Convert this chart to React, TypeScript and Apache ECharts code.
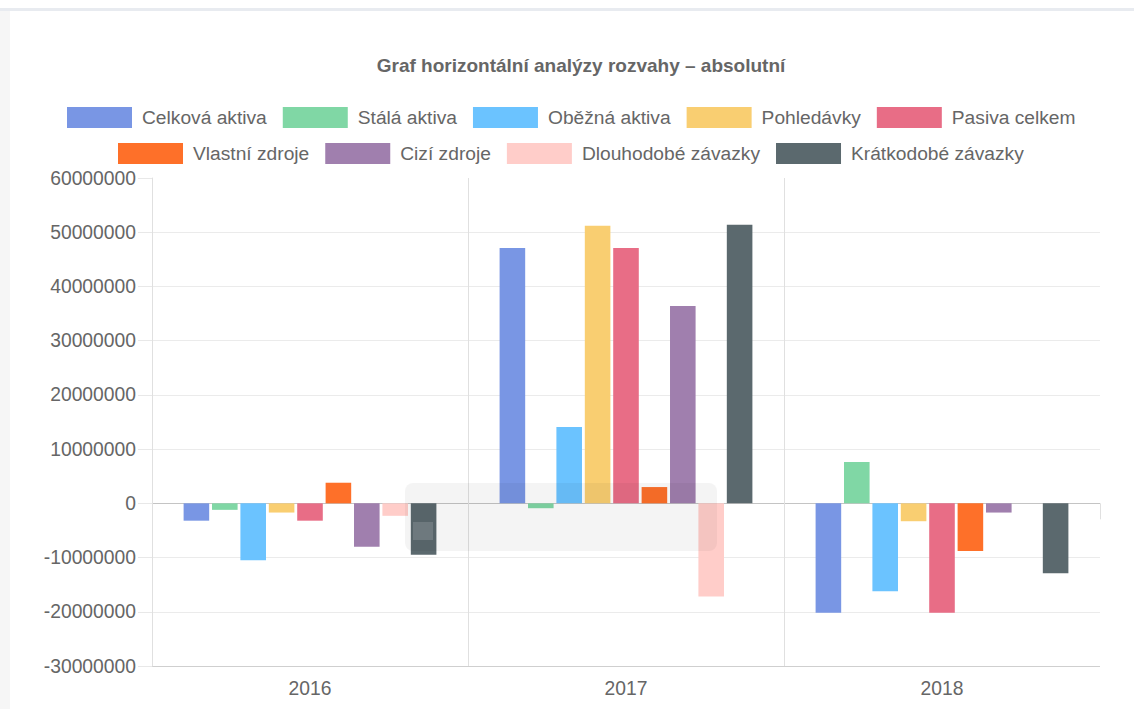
import React, { useEffect, useRef } from "react";
import * as echarts from "echarts";

const years = ["2016", "2017", "2018"];

const seriesNames = [
  "Celková aktiva",
  "Stálá aktiva",
  "Oběžná aktiva",
  "Pohledávky",
  "Pasiva celkem",
  "Vlastní zdroje",
  "Cizí zdroje",
  "Dlouhodobé závazky",
  "Krátkodobé závazky",
];

const seriesColors = [
  "#7996e4",
  "#80d7a5",
  "#6bc3ff",
  "#f9ce71",
  "#e86d86",
  "#fe7029",
  "#a07fae",
  "#ffcdc9",
  "#5b696e",
];

const celkovaAktiva = [-3200000, 47100000, -20200000];
const stalaAktiva = [-1200000, -900000, 7600000];
const obeznaAktiva = [-10500000, 14100000, -16200000];
const pohledavky = [-1700000, 51200000, -3300000];
const pasivaCelkem = [-3200000, 47100000, -20200000];
const vlastniZdroje = [3800000, 3000000, -8800000];
const ciziZdroje = [-8000000, 36400000, -1700000];
const dlouhodobeZavazky = [-2300000, -17200000, 0];
const kratkodobeZavazky = [-9500000, 51400000, -12900000];

const seriesValues = [
  celkovaAktiva,
  stalaAktiva,
  obeznaAktiva,
  pohledavky,
  pasivaCelkem,
  vlastniZdroje,
  ciziZdroje,
  dlouhodobeZavazky,
  kratkodobeZavazky,
];

const yTicks = { min: -30000000, max: 60000000, interval: 10000000 };

const FONT = "'Liberation Sans', Arial, Helvetica, sans-serif";
const TEXT = "#666666";

export default function App() {
  const ref = useRef<HTMLDivElement>(null);

  useEffect(() => {
    const chart = echarts.init(ref.current as HTMLDivElement, null, { renderer: "svg" });

    const legendCommon = {
      orient: "horizontal",
      padding: 0,
      itemWidth: 65,
      itemHeight: 21,
      itemGap: 16,
      icon: "rect",
      selectedMode: false,
      textStyle: { fontFamily: FONT, fontSize: 19.2, color: TEXT, padding: [0, 0, 0, 5] },
    };

    const splitColors = [
      "#cfcfcf",
      "#ebebeb",
      "#ebebeb",
      "#c4c4c4",
      "#ebebeb",
      "#ebebeb",
      "#ebebeb",
      "#ebebeb",
      "#ebebeb",
      "rgba(0,0,0,0)",
    ];

    chart.setOption({
      animation: false,
      backgroundColor: "#ffffff",
      textStyle: { fontFamily: FONT },
      title: {
        text: "Graf horizontální analýzy rozvahy – absolutní",
        left: 581,
        textAlign: "center",
        top: 56,
        padding: 0,
        textStyle: { fontFamily: FONT, fontSize: 19, fontWeight: "bold", color: TEXT },
      },
      legend: [
        { ...legendCommon, left: 67, top: 107, data: seriesNames.slice(0, 5) },
        { ...legendCommon, left: 118, top: 143, data: seriesNames.slice(5) },
      ],
      grid: { left: 152, right: 34, top: 178, bottom: 43, containLabel: false },
      xAxis: {
        type: "category",
        data: years,
        axisLine: { show: false },
        axisTick: { show: true, length: 16, lineStyle: { color: "#e0e0e0" } },
        axisLabel: { fontFamily: FONT, fontSize: 19.3, color: TEXT, margin: 13 },
        splitLine: {
          show: true,
          showMinLine: false,
          showMaxLine: false,
          lineStyle: { color: "#e0e0e0" },
        },
      },
      yAxis: {
        type: "value",
        min: yTicks.min,
        max: yTicks.max,
        interval: yTicks.interval,
        axisLine: { show: true, lineStyle: { color: "#e0e0e0" } },
        axisTick: { show: true, length: 14, lineStyle: { color: "#e8e8e8" } },
        axisLabel: {
          fontFamily: FONT,
          fontSize: 19.3,
          color: TEXT,
          margin: 16,
          formatter: (v: number) => String(v),
        },
        splitLine: { show: true, lineStyle: { color: splitColors } },
      },
      series: seriesNames.map((name, i) => ({
        type: "bar",
        name,
        data: seriesValues[i],
        barGap: "11%",
        barCategoryGap: "20%",
        itemStyle: { color: seriesColors[i] },
      })),
      graphic: [
        { type: "rect", silent: true, z: 100, shape: { x: 0, y: 8, width: 1134, height: 3 }, style: { fill: "#e8ebf0" } },
        { type: "rect", silent: true, z: 100, shape: { x: 0, y: 11, width: 10, height: 698 }, style: { fill: "#f6f6f6" } },
        {
          type: "rect",
          silent: true,
          z: 100,
          shape: { x: 405, y: 483, width: 312, height: 68, r: 8 },
          style: { fill: "rgba(0,0,0,0.045)" },
        },
        {
          type: "rect",
          silent: true,
          z: 101,
          shape: { x: 413, y: 522, width: 20, height: 18 },
          style: { fill: "rgba(255,255,255,0.14)" },
        },
      ],
    });

    return () => chart.dispose();
  }, []);

  return (
    <div
      ref={ref}
      style={{ position: "fixed", left: 0, top: 0, width: 1134, height: 709, background: "#ffffff" }}
    />
  );
}
